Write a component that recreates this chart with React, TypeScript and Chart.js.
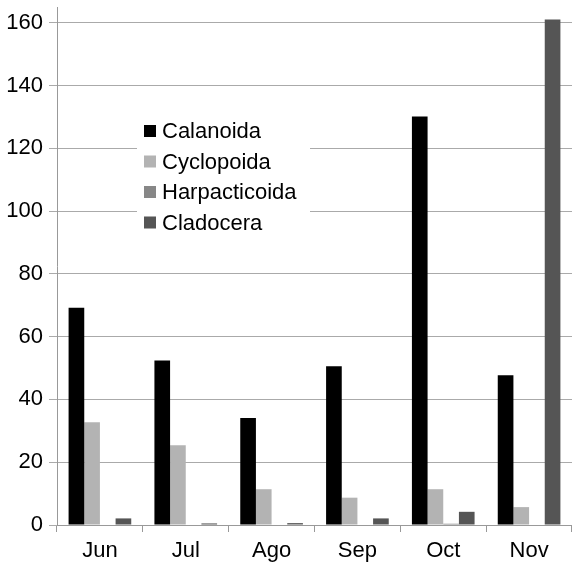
import React, { useEffect, useRef } from "react";
import { Chart, registerables } from "chart.js";

Chart.register(...registerables);

const months = ["Jun", "Jul", "Ago", "Sep", "Oct", "Nov"];
const calanoida = [69.2, 52.4, 34.1, 50.6, 130.1, 47.7];
const cyclopoida = [32.7, 25.4, 11.4, 8.7, 11.4, 5.7];
const harpacticoida = [0, 0, 0, 0, 0.4, 0];
const cladocera = [2.1, 0.5, 0.6, 2.1, 4.2, 161];
const seriesNames = ["Calanoida", "Cyclopoida", "Harpacticoida", "Cladocera"];
const seriesColors = ["#000000", "#b3b3b3", "#878787", "#555555"];
const yTicks = [0, 20, 40, 60, 80, 100, 120, 140, 160];

const FONT = "'Liberation Sans', Arial, sans-serif";

const legendPlugin = {
  id: "insideLegend",
  afterDraw(chart: any) {
    const ctx = chart.ctx;
    ctx.save();
    ctx.fillStyle = "#ffffff";
    ctx.fillRect(137, 110, 173, 128);
    const rows = [131, 161.5, 192, 222.5];
    chart.data.datasets.forEach((ds: any, i: number) => {
      const y = rows[i];
      ctx.fillStyle = ds.backgroundColor;
      ctx.fillRect(144, y - 6, 12, 12);
      ctx.fillStyle = "#000000";
      ctx.font = `22px ${FONT}`;
      ctx.textBaseline = "middle";
      ctx.textAlign = "left";
      ctx.fillText(ds.label, 162, y + 1);
    });
    ctx.restore();
  },
};

export default function App() {
  const ref = useRef<HTMLCanvasElement>(null);
  useEffect(() => {
    if (!ref.current) return;
    const data = [calanoida, cyclopoida, harpacticoida, cladocera];
    const chart = new Chart(ref.current, {
      type: "bar",
      data: {
        labels: months,
        datasets: seriesNames.map((n, i) => ({
          label: n,
          data: data[i],
          backgroundColor: seriesColors[i],
          borderWidth: 0,
          categoryPercentage: 0.73,
          barPercentage: 1.0,
        })),
      },
      options: {
        animation: false,
        responsive: false,
        maintainAspectRatio: false,
        layout: { padding: { top: 7, right: -2, left: 0, bottom: 0 } },
        plugins: { legend: { display: false }, tooltip: { enabled: false } },
        scales: {
          x: {
            offset: true,
            grid: {
              offset: true,
              drawOnChartArea: false,
              drawTicks: true,
              tickLength: 7,
              color: "#999999",
            },
            border: { color: "#999999", width: 1 },
            ticks: {
              color: "#000000",
              font: { family: FONT, size: 22 },
              padding: 6,
            },
            afterFit(scale: any) {
              scale.height = 38;
              scale.paddingLeft = 0;
              scale.paddingRight = 0;
            },
          },
          y: {
            min: 0,
            max: 165,
            afterBuildTicks(scale: any) {
              scale.ticks = yTicks.map((v) => ({ value: v }));
            },
            grid: {
              color: "#aaaaaa",
              tickLength: 8,
              drawTicks: true,
            },
            border: { color: "#999999", width: 1 },
            ticks: {
              color: "#000000",
              font: { family: FONT, size: 22 },
              padding: 6,
            },
            afterFit(scale: any) {
              scale.width = 57;
              scale.paddingTop = 0;
              scale.paddingBottom = 0;
            },
          },
        },
      },
      plugins: [legendPlugin],
    });
    return () => chart.destroy();
  }, []);
  return (
    <div style={{ position: "fixed", left: 0, top: 0, width: 572, height: 563, background: "#fff" }}>
      <canvas ref={ref} width={572} height={563} style={{ display: "block" }} />
    </div>
  );
}
